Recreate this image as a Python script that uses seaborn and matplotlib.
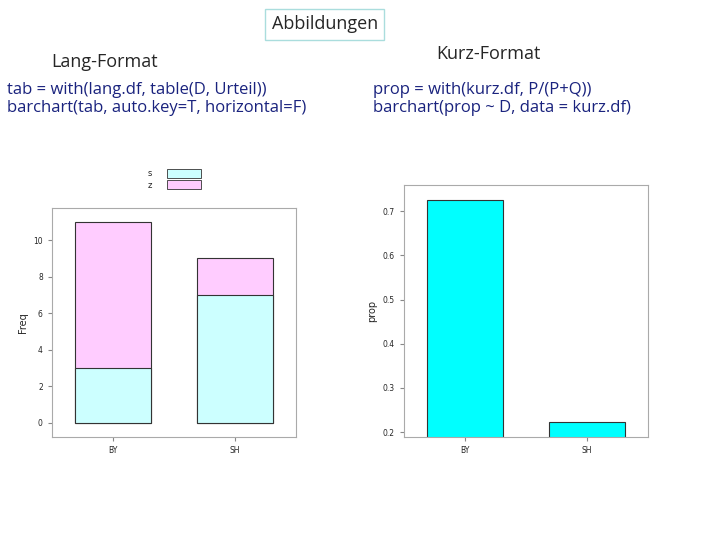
import matplotlib
matplotlib.use("Agg")
import matplotlib.pyplot as plt
import seaborn as sns
import pandas as pd
from matplotlib.patches import Rectangle

categories = ["BY", "SH"]
s_counts = [3, 7]
z_counts = [8, 2]
props = [0.725, 0.222]

sns.set_style("white")
plt.rcParams['font.family'] = ['DejaVu Sans']
fig = plt.figure(figsize=(7.2, 5.4), dpi=100)

navy = "#1a237e"
fig.text(0.45 if False else 0.451, 0.955, "Abbildungen", ha="center", va="center", fontsize=13, family="Open Sans",
         bbox=dict(boxstyle="square,pad=0.35", fc="white", ec="#aadddd"))
fig.text(0.145, 0.885, "Lang-Format", ha="center", va="center", fontsize=13, family="Open Sans")
fig.text(0.678, 0.9, "Kurz-Format", ha="center", va="center", fontsize=13, family="Open Sans")
fig.text(0.01, 0.817, "tab = with(lang.df, table(D, Urteil))\nbarchart(tab, auto.key=T, horizontal=F)",
         ha="left", va="center", fontsize=12, color=navy, family="Open Sans", linespacing=1.15)
fig.text(0.518, 0.817, "prop = with(kurz.df, P/(P+Q))\nbarchart(prop ~ D, data = kurz.df)",
         ha="left", va="center", fontsize=12, color=navy, family="Open Sans", linespacing=1.15)

df = pd.DataFrame({"D": categories, "s": s_counts, "z": z_counts})
df["total"] = df["s"] + df["z"]

ax1 = fig.add_axes([0.072, 0.191, 0.339, 0.424])
sns.barplot(data=df, x="D", y="total", color="#ffccff", edgecolor="#333333", linewidth=0.8, width=0.62, ax=ax1, saturation=1)
sns.barplot(data=df, x="D", y="s", color="#ccffff", edgecolor="#333333", linewidth=0.8, width=0.62, ax=ax1, saturation=1)
ax1.set_ylim(-0.77, 11.77)
ax1.set_yticks([0, 2, 4, 6, 8, 10])
ax1.set_xlabel("")
ax1.set_ylabel("Freq", fontsize=7)

dfk = pd.DataFrame({"D": categories, "prop": props})
ax2 = fig.add_axes([0.561, 0.191, 0.339, 0.467])
sns.barplot(data=dfk, x="D", y="prop", color="#00ffff", edgecolor="#333333", linewidth=0.8, width=0.62, ax=ax2, saturation=1)
ax2.set_ylim(0.189, 0.76)
ax2.set_yticks([0.2, 0.3, 0.4, 0.5, 0.6, 0.7])
ax2.set_yticklabels(["0.2", "0.3", "0.4", "0.5", "0.6", "0.7"])
ax2.set_xlabel("")
ax2.set_ylabel("prop", fontsize=7)

for ax in (ax1, ax2):
    for sp in ax.spines.values():
        sp.set_visible(True)
        sp.set_color("#aaaaaa")
    ax.tick_params(axis="both", labelsize=5.5, length=3, direction="out", color="#888888", left=True, bottom=True)

# legend
fig.patches.append(Rectangle((167/720, 1-178/540), 34/720, 9/540, transform=fig.transFigure, fc="#ccffff", ec="#333333", lw=0.6))
fig.patches.append(Rectangle((167/720, 1-189/540), 34/720, 9/540, transform=fig.transFigure, fc="#ffccff", ec="#333333", lw=0.6))
fig.text(150/720, 1-173/540, "s", fontsize=6, ha="center", va="center")
fig.text(150/720, 1-185/540, "z", fontsize=6, ha="center", va="center")

fig.savefig("out.png", dpi=100)
